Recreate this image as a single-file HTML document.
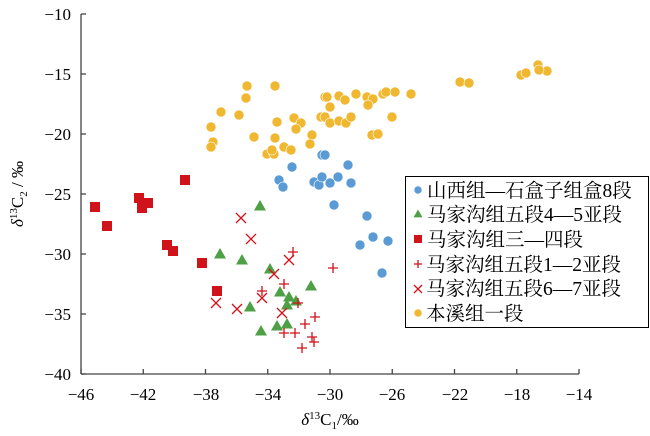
<!DOCTYPE html>
<html><head><meta charset="utf-8"><style>
body{margin:0;background:#fff}
svg{display:block}
text{font-family:"Liberation Serif","Noto Serif CJK SC",serif;fill:#000}
</style></head><body>
<svg id="s" width="650" height="436" viewBox="0 0 650 436" xmlns="http://www.w3.org/2000/svg">
<g stroke="#444" stroke-width="1.3" fill="none">
<line x1="81" y1="14" x2="81" y2="374"/>
<line x1="81" y1="374" x2="579" y2="374"/>
</g>
<g id="ticks" stroke="#444" stroke-width="1.3"></g>
<g font-size="17" text-anchor="end">
<text x="71" y="20">−10</text><text x="71" y="80">−15</text><text x="71" y="140">−20</text>
<text x="71" y="200">−25</text><text x="71" y="260">−30</text><text x="71" y="320">−35</text><text x="71" y="380">−40</text>
</g>
<g font-size="17" text-anchor="middle">
<text x="81" y="400">−46</text><text x="143" y="400">−42</text><text x="206" y="400">−38</text><text x="268" y="400">−34</text>
<text x="330" y="400">−30</text><text x="392" y="400">−26</text><text x="455" y="400">−22</text><text x="517" y="400">−18</text><text x="579" y="400">−14</text>
</g>
<text x="330" y="425" font-size="17" text-anchor="middle"><tspan font-style="italic">δ</tspan><tspan font-size="11" dy="-6">13</tspan><tspan dy="6">C</tspan><tspan font-size="11" dy="4">1</tspan><tspan dy="-4">/‰</tspan></text>
<text transform="translate(23,194) rotate(-90)" font-size="17" text-anchor="middle"><tspan font-style="italic">δ</tspan><tspan font-size="11" dy="-6">13</tspan><tspan dy="6">C</tspan><tspan font-size="11" dy="4">2</tspan><tspan dy="-4"> / ‰</tspan></text>
<g id="pts"></g>
<rect x="405.5" y="176.5" width="243" height="151" fill="#fff" stroke="#000" stroke-width="1"/>
<g id="leg"></g>
<g font-size="19.5" font-family="Noto Serif CJK SC, serif">
<text x="427" y="197">山西组—石盒子组盒8段</text>
<text x="427" y="221">马家沟组五段4—5亚段</text>
<text x="427" y="246">马家沟组三—四段</text>
<text x="426" y="271">马家沟组五段1—2亚段</text>
<text x="426" y="295">马家沟组五段6—7亚段</text>
<text x="426" y="320">本溪组一段</text>
</g>
</svg>
<script>
var NS="http://www.w3.org/2000/svg";
function el(p,t,a){var e=document.createElementNS(NS,t);for(var k in a)e.setAttribute(k,a[k]);p.appendChild(e);return e;}
var tk=document.getElementById('ticks');
for(var i=0;i<=8;i++){var x=81+i*62.25;el(tk,'line',{x1:x,y1:374,x2:x,y2:369});}
for(var i=0;i<=6;i++){var y=14+i*60;el(tk,'line',{x1:81,y1:y,x2:86,y2:y});}
var g=document.getElementById('pts');
var B='#5b9bd5',G='#4ea046',R='#d0121b',Y='#f0b731';
function circ(p,x,y,c,r){el(p,'circle',{cx:x,cy:y,r:r||5,fill:c,stroke:'#fff','stroke-width':0.6});}
function sq(p,x,y,s){s=s||5;el(p,'rect',{x:x-s,y:y-s,width:2*s,height:2*s,fill:R});}
function tri(p,x,y,s){s=s||6;el(p,'polygon',{points:(x)+','+(y-s)+' '+(x+s)+','+(y+s*0.75)+' '+(x-s)+','+(y+s*0.75),fill:G});}
function plus(p,x,y,s){s=s||5;el(p,'path',{d:'M'+(x-s)+' '+y+'H'+(x+s)+'M'+x+' '+(y-s)+'V'+(y+s),stroke:R,'stroke-width':1.3});}
function cross(p,x,y,s){s=s||5;el(p,'path',{d:'M'+(x-s)+' '+(y-s)+'L'+(x+s)+' '+(y+s)+'M'+(x+s)+' '+(y-s)+'L'+(x-s)+' '+(y+s),stroke:R,'stroke-width':1.3});}
var yel=[[247,86],[275,86],[246,98],[221,112],[239,115],[211,127],[277,122],[294,118],[301,123],[296,129],[254,137],[275,138],[312,135],[310,144],[213,142],[211,147],[267,154],[274,154],[284,147],[291,150],[272,150],[321,117],[325,97],[327,97],[339,96],[345,100],[356,94],[367,97],[373,99],[368,105],[330,107],[383,94],[386,92],[395,92],[411,94],[325,117],[330,123],[339,121],[346,123],[351,117],[392,117],[372,135],[378,134],[460,82],[469,83],[521,75],[526,73],[538,65],[547,71],[539,70]];
yel.forEach(function(p){circ(g,p[0],p[1],Y);});
var blu=[[292,167],[279,180],[283,187],[314,182],[319,185],[322,177],[322,155],[325,155],[348,165],[338,177],[330,183],[351,183],[334,205],[367,216],[373,237],[360,245],[388,241],[382,273]];
blu.forEach(function(p){circ(g,p[0],p[1],B);});
[[95,207],[107,226],[139,198],[142,208],[148,203],[167,245],[173,251],[185,180],[202,263],[217,291]].forEach(function(p){sq(g,p[0],p[1]);});
[[260,206],[220,254],[242,260],[270,269],[280,292],[289,297],[287,305],[296,301],[311,286],[250,307],[261,331],[277,326],[287,324]].forEach(function(p){tri(g,p[0],p[1]);});
[[241,218],[251,239],[289,260],[274,274],[216,303],[237,309],[262,298],[282,313]].forEach(function(p){cross(g,p[0],p[1]);});
[[293,252],[284,284],[262,291],[298,303],[315,317],[305,324],[284,333],[295,333],[312,337],[314,342],[302,348],[333,268]].forEach(function(p){plus(g,p[0],p[1]);});
var l=document.getElementById('leg');
circ(l,418,190,B,4);tri(l,418,214,4.5);sq(l,418,239,4);plus(l,418,264,4);cross(l,418,289,4);circ(l,418,313,Y,4);
</script>
</body></html>
